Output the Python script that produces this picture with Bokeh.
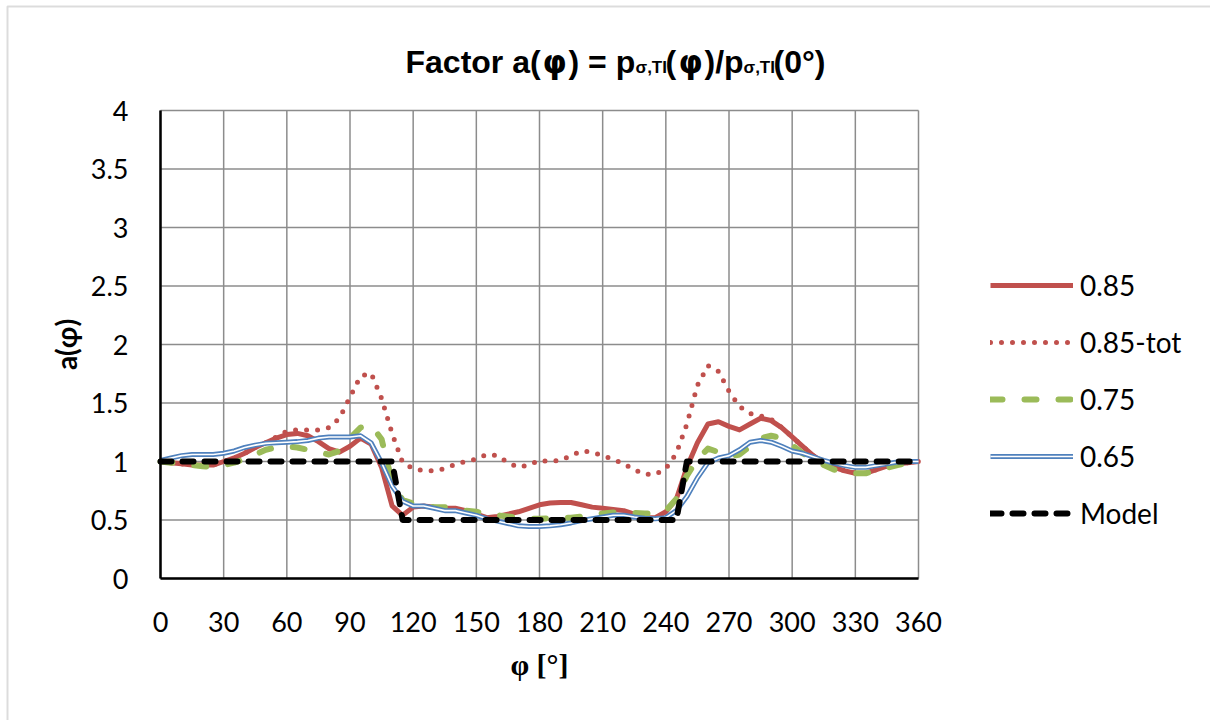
from bokeh.plotting import figure
from bokeh.models import (Range1d, FixedTicker, CustomJSTickFormatter, Label,
                          Legend, LegendItem, BoxAnnotation)
from bokeh.embed import file_html
from bokeh.resources import INLINE

# Angle grid (degrees)
phi = [0, 5, 10, 15, 20, 25, 30, 35, 40, 45, 50, 55, 60, 65, 70, 75, 80, 85,
       90, 95, 100, 105, 110, 115, 120, 125, 130, 135, 140, 145, 150, 155, 160,
       165, 170, 175, 180, 185, 190, 195, 200, 205, 210, 215, 220, 225, 230,
       235, 240, 245, 250, 255, 260, 265, 270, 275, 280, 285, 290, 295, 300,
       305, 310, 315, 320, 325, 330, 335, 340, 345, 350, 355, 360]

a_085 = [1.00, 0.99, 0.98, 0.97, 0.97, 0.97, 1.00, 1.03, 1.07, 1.12, 1.16, 1.20,
         1.23, 1.24, 1.22, 1.17, 1.11, 1.08, 1.13, 1.20, 1.15, 0.95, 0.62, 0.54,
         0.61, 0.62, 0.61, 0.60, 0.60, 0.58, 0.55, 0.52, 0.53, 0.55, 0.57, 0.60,
         0.63, 0.645, 0.65, 0.65, 0.63, 0.61, 0.60, 0.59, 0.58, 0.55, 0.52, 0.52,
         0.57, 0.68, 0.95, 1.16, 1.32, 1.34, 1.30, 1.27, 1.32, 1.37, 1.35, 1.29,
         1.21, 1.13, 1.05, 0.99, 0.95, 0.92, 0.90, 0.90, 0.93, 0.96, 0.98, 0.99,
         1.00]

a_085_tot = [1.00, 0.99, 0.98, 0.97, 0.97, 0.97, 1.00, 1.03, 1.07, 1.12, 1.16,
             1.21, 1.26, 1.27, 1.27, 1.27, 1.29, 1.37, 1.55, 1.73, 1.755, 1.54,
             1.24, 0.99, 0.94, 0.92, 0.92, 0.94, 0.975, 1.00, 1.02, 1.06, 1.05,
             0.99, 0.95, 0.97, 1.01, 1.00, 1.01, 1.05, 1.09, 1.08, 1.05, 1.02,
             0.98, 0.93, 0.89, 0.89, 0.94, 1.07, 1.32, 1.65, 1.82, 1.77, 1.60,
             1.47, 1.41, 1.39, 1.36, 1.29, 1.21, 1.13, 1.05, 0.99, 0.95, 0.92,
             0.90, 0.90, 0.93, 0.96, 0.98, 0.99, 1.00]

a_075 = [1.00, 0.99, 0.98, 0.97, 0.96, 0.95, 0.97, 0.99, 1.02, 1.06, 1.10, 1.12,
         1.13, 1.12, 1.10, 1.08, 1.06, 1.09, 1.20, 1.29, 1.31, 1.19, 0.82, 0.67,
         0.64, 0.62, 0.61, 0.61, 0.60, 0.58, 0.57, 0.555, 0.54, 0.53, 0.52, 0.51,
         0.51, 0.515, 0.52, 0.52, 0.53, 0.545, 0.555, 0.565, 0.565, 0.56, 0.555,
         0.555, 0.58, 0.68, 0.88, 1.02, 1.11, 1.08, 1.04, 1.06, 1.13, 1.20, 1.22,
         1.20, 1.14, 1.07, 1.02, 0.97, 0.93, 0.91, 0.90, 0.90, 0.92, 0.945, 0.97,
         0.985, 1.00]

a_065 = [1.01, 1.03, 1.05, 1.06, 1.06, 1.06, 1.07, 1.09, 1.12, 1.14, 1.155, 1.16,
         1.165, 1.17, 1.18, 1.20, 1.21, 1.21, 1.21, 1.22, 1.16, 0.99, 0.79, 0.66,
         0.62, 0.62, 0.60, 0.58, 0.58, 0.56, 0.54, 0.51, 0.49, 0.47, 0.45, 0.445,
         0.445, 0.45, 0.46, 0.475, 0.495, 0.51, 0.525, 0.54, 0.54, 0.525, 0.515,
         0.51, 0.52, 0.58, 0.70, 0.86, 0.99, 1.03, 1.05, 1.10, 1.165, 1.18, 1.165,
         1.13, 1.09, 1.07, 1.04, 1.01, 0.985, 0.965, 0.95, 0.95, 0.965, 0.98,
         0.995, 1.00, 1.00]

# Step model
model_phi = [0, 110, 115, 245, 250, 360]
model_a = [1.0, 1.0, 0.5, 0.5, 1.0, 1.0]

x_ticks = [0, 30, 60, 90, 120, 150, 180, 210, 240, 270, 300, 330, 360]
y_ticks = [0, 0.5, 1, 1.5, 2, 2.5, 3, 3.5, 4]

series_labels = ["0.85", "0.85-tot", "0.75", "0.65", "Model"]

RED = "#c0504d"
GREEN = "#9bbb59"
BLUE = "#4f81bd"
GRID = "#8c8c8c"
FONT = "Lato"
TITLE_FONT = "Liberation Sans"
GREEK_FONT = "DejaVu Sans"
AXIS_GREEK_FONT = "Liberation Serif"

W, H = 1210, 720
# plot area in page pixels: phi 0..360 spans x 160..918, a 0..4 spans y 578..110
PX0, PX1, PY0, PY1 = 160.0, 918.0, 578.0, 110.0
sx = (PX1 - PX0) / 360.0
sy = (PY0 - PY1) / 4.0


def dx(px):
    return (px - PX0) / sx


def dy(py):
    return (PY0 - py) / sy


# The frame covers the whole canvas so title, legend and border are not clipped;
# the axes sit at fixed data locations instead of taking panel space.
p = figure(width=W, height=H, x_range=Range1d(dx(0), dx(W)),
           y_range=Range1d(dy(H), dy(0)), output_backend="svg",
           toolbar_location=None, title=None, min_border=0)
p.min_border_left = p.min_border_right = p.min_border_top = p.min_border_bottom = 0
p.outline_line_color = None
p.background_fill_color = "white"
p.border_fill_color = "white"
p.xgrid.visible = False
p.ygrid.visible = False

# chart-area border
p.add_layout(BoxAnnotation(left=dx(7), right=dx(W + 50), top=dy(6), bottom=dy(H + 50),
                           fill_alpha=0, line_color=GRID, line_width=2,
                           level="underlay"))

# gridlines, limited to the plot area
p.segment(x0=x_ticks, x1=x_ticks, y0=[y_ticks[0]] * len(x_ticks),
          y1=[y_ticks[-1]] * len(x_ticks), line_color=GRID, line_width=1.5)
p.segment(x0=[x_ticks[0]] * len(y_ticks), x1=[x_ticks[-1]] * len(y_ticks),
          y0=y_ticks, y1=y_ticks, line_color=GRID, line_width=1.5)

for ax, ticks in ((p.xaxis, x_ticks), (p.yaxis, y_ticks)):
    ax.ticker = FixedTicker(ticks=ticks)
    ax.formatter = CustomJSTickFormatter(code="return tick.toString();")
    ax.bounds = (ticks[0], ticks[-1])
    ax.fixed_location = 0
    ax.major_tick_line_color = None
    ax.minor_tick_line_color = None
    ax.axis_line_color = "black"
    ax.axis_line_width = 2.5
    ax.major_label_text_font = FONT
    ax.major_label_text_font_size = "27px"
    ax.major_label_text_color = "black"
    ax.axis_label_text_font_style = "bold"
    ax.axis_label_text_color = "black"

p.xaxis.major_label_standoff = 27
p.yaxis.major_label_standoff = 26
p.xaxis.axis_label = "φ [°]"
p.xaxis.axis_label_text_font = AXIS_GREEK_FONT
p.xaxis.axis_label_text_font_size = "30px"
p.xaxis.axis_label_standoff = 13
p.yaxis.axis_label = "a(φ)"
p.yaxis.axis_label_text_font = FONT
p.yaxis.axis_label_text_font_size = "28px"
p.yaxis.axis_label_standoff = 5

r_085 = p.line(phi, a_085, line_color=RED, line_width=5, line_join="round")
r_tot = p.line(phi, a_085_tot, line_color=RED, line_width=5, line_dash="0 11",
               line_cap="round", line_join="round")
r_075 = p.line(phi, a_075, line_color=GREEN, line_width=6, line_dash="12 22",
               line_cap="round", line_join="round")
r_065a = p.line(phi, a_065, line_color=BLUE, line_width=5, line_join="round")
r_065b = p.line(phi, a_065, line_color="white", line_width=1.6, line_join="round")
r_mod = p.line(model_phi, model_a, line_color="black", line_width=6,
               line_dash="11 11", line_cap="round", line_join="round")

legend = Legend(items=[
    LegendItem(label=series_labels[0], renderers=[r_085]),
    LegendItem(label=series_labels[1], renderers=[r_tot]),
    LegendItem(label=series_labels[2], renderers=[r_075]),
    LegendItem(label=series_labels[3], renderers=[r_065a, r_065b]),
    LegendItem(label=series_labels[4], renderers=[r_mod]),
], location=(990, H - 530), orientation="vertical")
legend.glyph_width = 83
legend.glyph_height = 34
legend.label_height = 34
legend.spacing = 23
legend.label_standoff = 7
legend.padding = 0
legend.margin = 0
legend.border_line_alpha = 0
legend.background_fill_alpha = 0
legend.label_text_font = FONT
legend.label_text_font_size = "28px"
legend.label_text_color = "black"
legend.label_text_baseline = "middle"
p.add_layout(legend, "center")

# Title assembled from pieces so the subscripts can be set smaller
# (text, x in px, baseline y in px, size, font, align)
title_parts = [
    ("Factor a(", 405, 61, "32px", TITLE_FONT, "left"),
    ("φ", 554, 61, "31px", GREEK_FONT, "center"),
    (") = p", 568, 61, "32px", TITLE_FONT, "left"),
    ("σ,TI", 635, 67, "17px", TITLE_FONT, "left"),
    ("(", 665, 61, "32px", TITLE_FONT, "left"),
    ("φ", 690, 61, "31px", GREEK_FONT, "center"),
    (")/p", 704, 61, "32px", TITLE_FONT, "left"),
    ("σ,TI", 743, 67, "17px", TITLE_FONT, "left"),
    ("(0°)", 773, 61, "32px", TITLE_FONT, "left"),
]
for txt, lx, by, fs, fnt, align in title_parts:
    p.add_layout(Label(x=dx(lx), y=dy(by), text=txt, text_font=fnt,
                       text_font_size=fs, text_font_style="bold",
                       text_color="black", text_align=align,
                       text_baseline="alphabetic"))

open("out.html", "w").write(file_html(p, INLINE))
